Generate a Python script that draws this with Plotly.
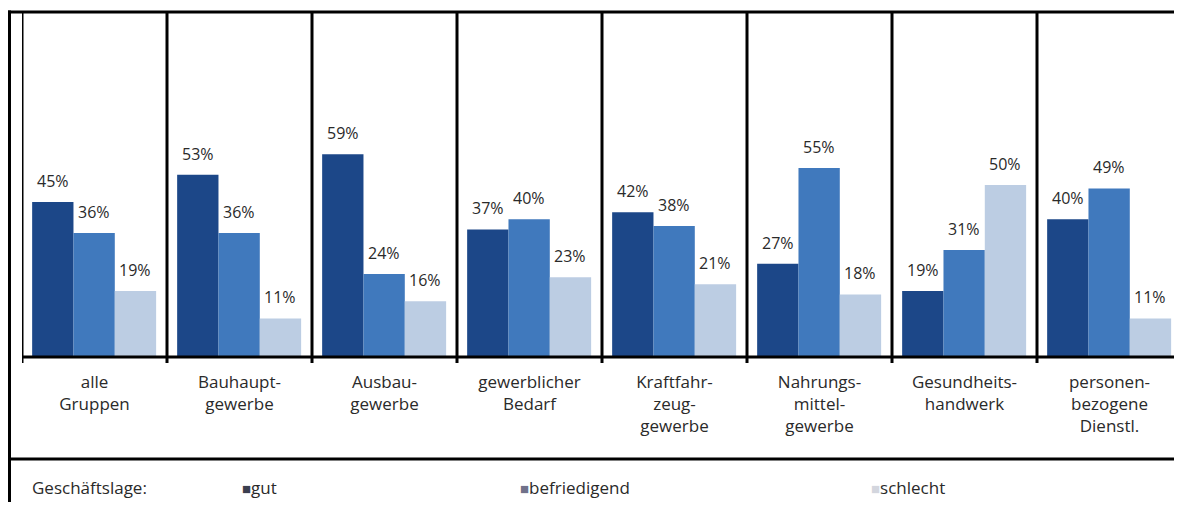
import plotly.graph_objects as go

categories = ["alle<br>Gruppen", "Bauhaupt-<br>gewerbe", "Ausbau-<br>gewerbe", "gewerblicher<br>Bedarf",
              "Kraftfahr-<br>zeug-<br>gewerbe", "Nahrungs-<br>mittel-<br>gewerbe", "Gesundheits-<br>handwerk",
              "personen-<br>bezogene<br>Dienstl."]
gut = [45, 53, 59, 37, 42, 27, 19, 40]
befriedigend = [36, 36, 24, 40, 38, 55, 31, 49]
schlecht = [19, 11, 16, 23, 21, 18, 50, 11]
series_names = ["gut", "befriedigend", "schlecht"]
series_values = [gut, befriedigend, schlecht]
bar_colors = ["#1c4788", "#4079bd", "#bccde3"]
legend_marker_colors = ["#3b3f4f", "#70718a", "#d3d6de"]

# page offset caused by default body margin
OFF = 8
W, H = 1182 - OFF, 510 - 2 * OFF
L, T = 22 - OFF, 14 - OFF
plot_bottom_page = 356
B = H - (plot_bottom_page - OFF)
plot_h = H - T - B
plot_w = W - L
FONT = "Open Sans"
TXT = "#2a2a2a"

bw = 0.285
off0 = -0.43
xs = list(range(len(categories)))

fig = go.Figure()
for k, (name, vals, col) in enumerate(zip(series_names, series_values, bar_colors)):
    off = off0 + k * bw
    fig.add_trace(go.Bar(x=xs, y=vals, name=name, width=bw, offset=off,
                         marker=dict(color=col, line=dict(width=0)), showlegend=False))
    for i, v in zip(xs, vals):
        fig.add_annotation(x=i + off + bw / 2, y=v, text=f"{v}%", showarrow=False,
                           xref="x", yref="y", yanchor="middle", yshift=21,
                           font=dict(family=FONT, size=16, color=TXT))

def py(p):
    return (plot_bottom_page - p) / plot_h

def px(p):
    return (p - OFF - L) / plot_w

shapes = []
lw = 3
shapes.append(dict(type="line", xref="paper", yref="paper", x0=px(8), x1=px(1182), y0=py(12), y1=py(12),
                   line=dict(color="black", width=lw)))
shapes.append(dict(type="line", xref="paper", yref="paper", x0=px(9.5), x1=px(9.5), y0=py(10.5), y1=py(503),
                   line=dict(color="black", width=lw)))
shapes.append(dict(type="line", xref="paper", yref="paper", x0=0, x1=px(1182), y0=py(357), y1=py(357),
                   line=dict(color="black", width=lw)))
shapes.append(dict(type="line", xref="paper", yref="paper", x0=px(8), x1=px(1182), y0=py(459), y1=py(459),
                   line=dict(color="black", width=lw)))
for i in range(len(categories)):
    shapes.append(dict(type="line", xref="x", yref="paper", x0=i - 0.5, x1=i - 0.5, y0=py(12), y1=py(363),
                       line=dict(color="black", width=lw)))

anns = []
anns.append(dict(xref="paper", yref="paper", x=px(30), y=py(488), xanchor="left", yanchor="middle",
                 text="Geschäftslage:", showarrow=False, font=dict(family=FONT, size=17, color=TXT)))
leg_x = [240, 518, 869]
for name, col, lx in zip(series_names, legend_marker_colors, leg_x):
    anns.append(dict(xref="paper", yref="paper", x=px(lx), y=py(488), xanchor="left", yanchor="middle",
                     text=f"<span style='color:{col};font-size:15px'>■</span>{name}", showarrow=False,
                     font=dict(family=FONT, size=17, color=TXT)))
for a in anns:
    fig.add_annotation(**a)

fig.update_layout(
    width=W, height=H,
    margin=dict(l=L, r=0, t=T, b=B, pad=0),
    paper_bgcolor="white", plot_bgcolor="white",
    barmode="overlay",
    shapes=shapes,
    xaxis=dict(range=[-0.5, len(categories) - 0.5], tickmode="array", tickvals=xs, ticktext=categories,
               showgrid=False, zeroline=False, showline=False, ticks="", ticklabelstandoff=14,
               tickfont=dict(family=FONT, size=17, color=TXT)),
    yaxis=dict(range=[0, 100], visible=False, showgrid=False, zeroline=False),
    font=dict(family=FONT, size=16, color=TXT),
)

fig.write_html("out.html")
